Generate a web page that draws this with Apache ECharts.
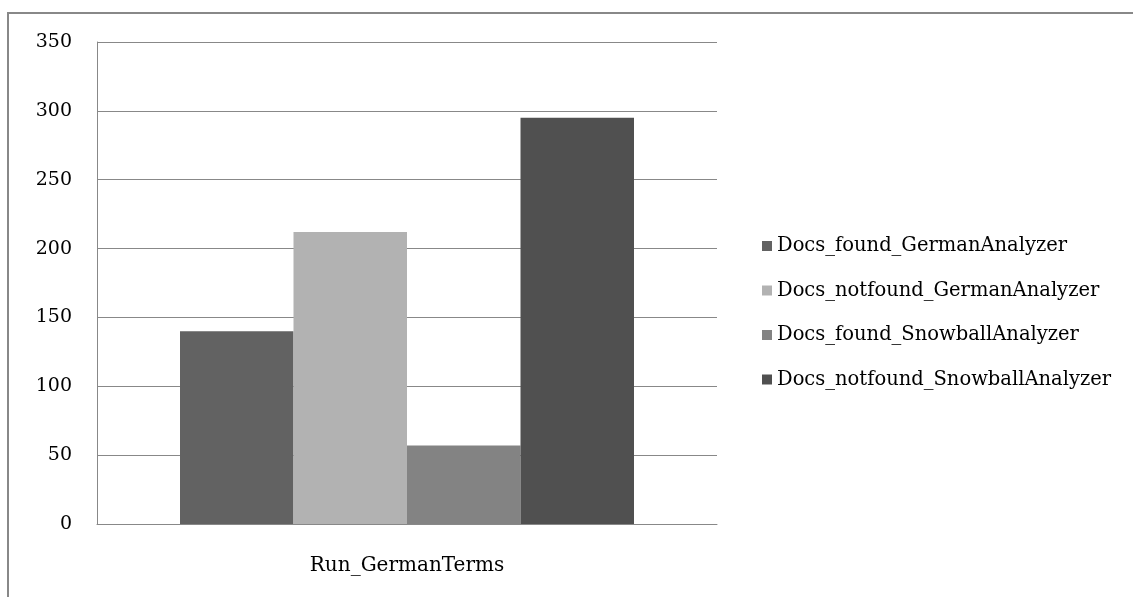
<!DOCTYPE html>
<html>
<head>
<meta charset="utf-8">
<script src="https://cdn.jsdelivr.net/npm/echarts@6/dist/echarts.min.js"></script>
<style>
html,body{margin:0;padding:0;background:#fff;}
#chart{width:1133px;height:597px;}
</style>
</head>
<body>
<div id="chart"></div>
<script>
const categories = ['Run_GermanTerms'];
const seriesNames = ['Docs_found_GermanAnalyzer', 'Docs_notfound_GermanAnalyzer', 'Docs_found_SnowballAnalyzer', 'Docs_notfound_SnowballAnalyzer'];
const foundGerman = [140];
const notfoundGerman = [212];
const foundSnowball = [57];
const notfoundSnowball = [295];
const seriesColors = ['#626262', '#b2b2b2', '#838383', '#505050'];
const yTicks = [0, 50, 100, 150, 200, 250, 300, 350];

const seriesData = [foundGerman, notfoundGerman, foundSnowball, notfoundSnowball];
const font = '"DejaVu Serif", "Liberation Serif", serif';

const chart = echarts.init(document.getElementById('chart'));
chart.setOption({
  backgroundColor: '#fff',
  animation: false,
  graphic: [{
    type: 'rect',
    shape: { x: 8, y: 13, width: 1200, height: 700 },
    style: { fill: 'none', stroke: '#888', lineWidth: 2 },
    silent: true
  }],
  grid: { left: 97, right: 416, top: 42, bottom: 73, containLabel: false },
  legend: {
    orient: 'vertical',
    left: 762,
    top: 236,
    padding: 0,
    itemWidth: 10,
    itemHeight: 10,
    itemGap: 24.5,
    icon: 'rect',
    data: seriesNames,
    textStyle: { fontFamily: font, fontSize: 19.5, color: '#000' }
  },
  xAxis: {
    type: 'category',
    data: categories,
    axisLine: { lineStyle: { color: '#888', width: 1 } },
    axisTick: { show: false },
    axisLabel: { fontFamily: font, fontSize: 20, color: '#000', margin: 32 }
  },
  yAxis: {
    type: 'value',
    min: yTicks[0],
    max: yTicks[yTicks.length - 1],
    interval: 50,
    axisLine: { show: true, lineStyle: { color: '#888', width: 1 } },
    axisTick: { show: false },
    splitLine: { lineStyle: { color: '#888', width: 1 } },
    axisLabel: { fontFamily: font, fontSize: 19, color: '#000', margin: 25 }
  },
  series: seriesNames.map((name, i) => ({
    name: name,
    type: 'bar',
    data: seriesData[i],
    barWidth: 113.5,
    barGap: '0%',
    itemStyle: { color: seriesColors[i] }
  }))
});
</script>
</body>
</html>
